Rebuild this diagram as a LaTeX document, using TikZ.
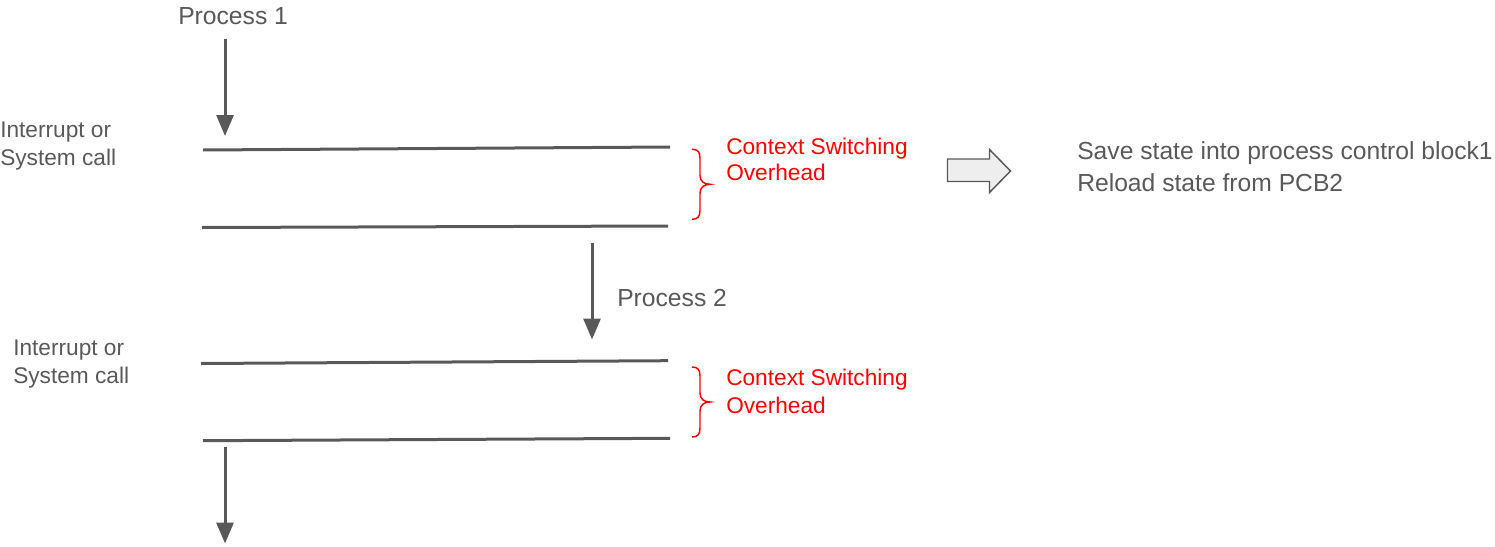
\documentclass[tikz,border=0pt]{standalone}
\usepackage{fontspec}
\setmainfont{Liberation Sans}
\usetikzlibrary{arrows.meta}
\definecolor{ink}{HTML}{595959}
\definecolor{hot}{HTML}{FF0000}
\definecolor{pale}{HTML}{EEEEEE}
\begin{document}
\begin{tikzpicture}[x=0.75pt,y=-0.75pt,
  lbl/.style={anchor=base west, inner sep=0pt, text=ink, font=\fontsize{17}{20}\selectfont},
  note/.style={lbl, text=hot},
  big/.style={lbl, font=\fontsize{18.5}{22}\selectfont},
  bar/.style={draw=ink, line width=2.25pt},
  flow/.style={draw=ink, line width=2.25pt, -{Triangle[length=15.75pt,width=12.75pt]}},
  curly/.style={draw=hot, line width=1.1pt},
  fat/.style={draw=ink, fill=pale, line width=1.1pt, line join=miter},
  cbrace/.pic={\draw[curly] (0,0) .. controls (6,0) and (8,3) .. (8,9) -- (8,26)
      .. controls (8,32) and (12,35) .. (18,35) .. controls (12,35) and (8,38) .. (8,44)
      -- (8,61) .. controls (8,67) and (6,70) .. (0,70);}]
\useasboundingbox (0,0) rectangle (1495,546);

% labels on the left and along the flow
\node[big] (proc1) at (178,24) {Process 1};
\node[lbl] (irq1a) at (0,137) {Interrupt or};
\node[lbl] (irq1b) at (0,165) {System call};
\node[big] (proc2) at (617,306) {Process 2};
\node[lbl] (irq2a) at (13,355.5) {Interrupt or};
\node[lbl] (irq2b) at (13,383) {System call};

% overhead notes
\node[note] (cs1a) at (726,154) {Context Switching};
\node[note] (cs1b) at (726,180) {Overhead};
\node[note] (cs2a) at (726,385) {Context Switching};
\node[note] (cs2b) at (726,413) {Overhead};

% what happens during a switch
\node[big] (save) at (1077,159) {Save state into process control block1};
\node[big] (load) at (1077,191) {Reload state from PCB2};

% time bars marking entry and exit of the kernel
\coordinate (b1l) at (203,150);   \coordinate (b1r) at (670,147);
\coordinate (b2l) at (202,227.5); \coordinate (b2r) at (668,226);
\coordinate (b3l) at (201,363.5); \coordinate (b3r) at (668,360.7);
\coordinate (b4l) at (203,440.7); \coordinate (b4r) at (670,438.3);
\draw[bar] (b1l) -- (b1r);
\draw[bar] (b2l) -- (b2r);
\draw[bar] (b3l) -- (b3r);
\draw[bar] (b4l) -- (b4r);

% execution arrows
\coordinate (a1s) at (225,39);  \coordinate (a1e) at (225,136);
\coordinate (a2s) at (592,243); \coordinate (a2e) at (592,339.5);
\coordinate (a3s) at (225,447); \coordinate (a3e) at (225,543.5);
\draw[flow] (a1s) -- (a1e);
\draw[flow] (a2s) -- (a2e);
\draw[flow] (a3s) -- (a3e);

% braces
\pic at (692,149.3) {cbrace};
\pic at (692,367) {cbrace};

% block arrow
\draw[fat] (947.5,159) -- (989.5,159) -- (989.5,149.5) -- (1010.5,171)
  -- (989.5,192.5) -- (989.5,181.5) -- (947.5,181.5) -- cycle;
\end{tikzpicture}
\end{document}
